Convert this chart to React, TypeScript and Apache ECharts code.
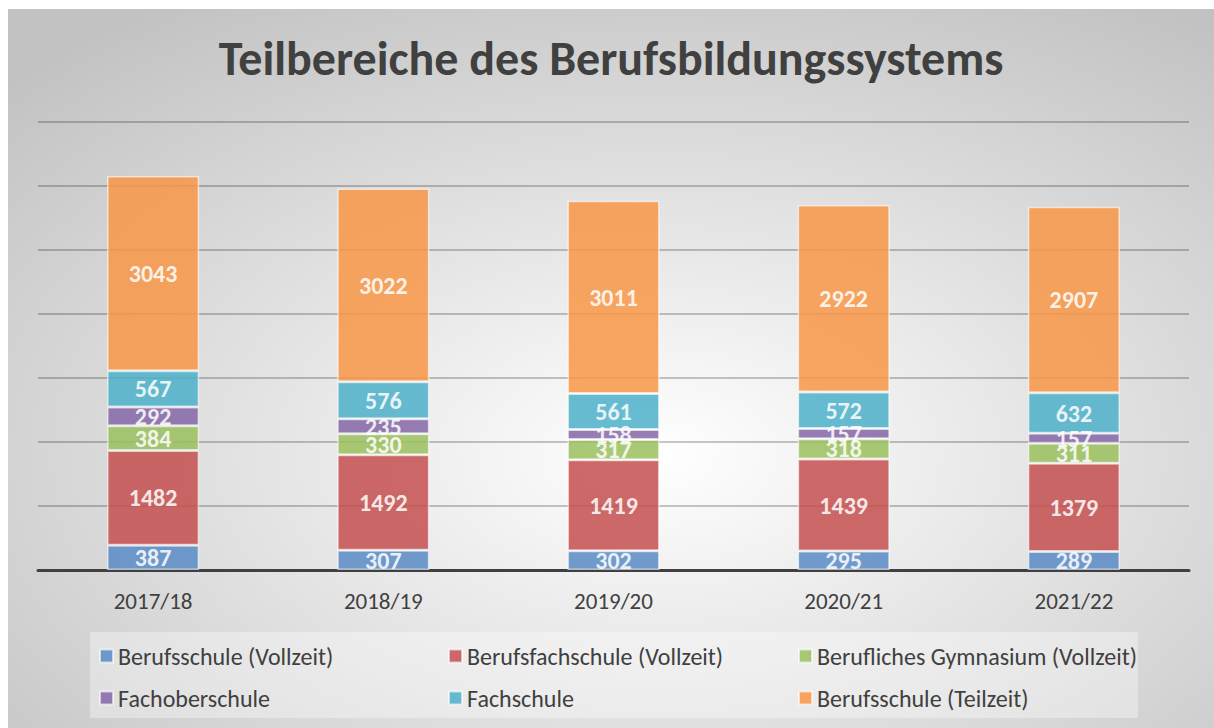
import React, { useEffect, useRef } from "react";
import * as echarts from "echarts";

const categories = ["2017/18", "2018/19", "2019/20", "2020/21", "2021/22"];
const seriesNames = [
  "Berufsschule (Vollzeit)",
  "Berufsfachschule (Vollzeit)",
  "Berufliches Gymnasium (Vollzeit)",
  "Fachoberschule",
  "Fachschule",
  "Berufsschule (Teilzeit)",
];
const berufsschuleVollzeit = [387, 307, 302, 295, 289];
const berufsfachschule = [1482, 1492, 1419, 1439, 1379];
const gymnasium = [384, 330, 317, 318, 311];
const fachoberschule = [292, 235, 158, 157, 157];
const fachschule = [567, 576, 561, 572, 632];
const berufsschuleTeilzeit = [3043, 3022, 3011, 2922, 2907];
const seriesValues = [
  berufsschuleVollzeit,
  berufsfachschule,
  gymnasium,
  fachoberschule,
  fachschule,
  berufsschuleTeilzeit,
];
const colors = ["#5b8bc6", "#c4504f", "#9bbf5e", "#8467a8", "#4db0c9", "#f79646"];

const FONT = "Carlito, Lato, 'Open Sans', sans-serif";

export default function App() {
  const ref = useRef<HTMLDivElement>(null);
  useEffect(() => {
    if (!ref.current) return;
    const chart = echarts.init(ref.current, null, { renderer: "svg" });
    const colX = [86, 435, 785];
    const rowY = [630, 672];
    const legends = seriesNames.map((name, i) => ({
      data: [name],
      left: colX[i % 3],
      top: rowY[Math.floor(i / 3)],
      itemWidth: 13,
      itemHeight: 13,
      itemGap: 6,
      icon: "rect",
      textStyle: { fontFamily: FONT, fontSize: 24, color: "#404040", lineHeight: 24 },
      selectedMode: false,
    }));
    chart.setOption({
      animation: false,
      backgroundColor: {
        type: "radial",
        x: 0.54,
        y: 0.62,
        r: 0.75,
        colorStops: [
          { offset: 0, color: "#ffffff" },
          { offset: 1, color: "#c2c2c2" },
        ],
      },
      color: colors,
      title: {
        text: "Teilbereiche des Berufsbildungssystems",
        left: "center",
        top: 20,
        textStyle: { fontFamily: FONT, fontSize: 48, fontWeight: "bold", color: "#404040" },
      },
      graphic: [
        {
          type: "rect",
          left: 82,
          top: 623,
          shape: { width: 1048, height: 86 },
          style: { fill: "rgba(255,255,255,0.35)" },
          z: -1,
        },
      ],
      legend: legends,
      grid: { left: 30, right: 25, top: 113, bottom: 158 },
      xAxis: {
        type: "category",
        data: categories,
        axisLine: { lineStyle: { color: "#404040", width: 3 } },
        axisTick: { show: false },
        axisLabel: { fontFamily: FONT, fontSize: 23, color: "#404040", margin: 19 },
      },
      yAxis: {
        type: "value",
        min: 0,
        max: 7000,
        interval: 1000,
        axisLabel: { show: false },
        axisLine: { show: false },
        axisTick: { show: false },
        splitLine: { lineStyle: { color: "rgba(0,0,0,0.22)", width: 2 } },
      },
      series: seriesNames.map((name, i) => ({
        name,
        type: "bar",
        stack: "total",
        barWidth: "40%",
        data: seriesValues[i],
        itemStyle: {
          color: colors[i],
          opacity: 0.85,
          borderColor: "rgba(255,255,255,0.7)",
          borderWidth: 1.5,
        },
        label: {
          show: true,
          position: "inside",
          fontFamily: FONT,
          fontSize: 24,
          fontWeight: "bold",
          color: "#ffffff",
        },
      })),
    });
    return () => chart.dispose();
  }, []);
  return (
    <div
      ref={ref}
      style={{ position: "absolute", left: 8, top: 9, width: 1206, height: 719 }}
    />
  );
}
